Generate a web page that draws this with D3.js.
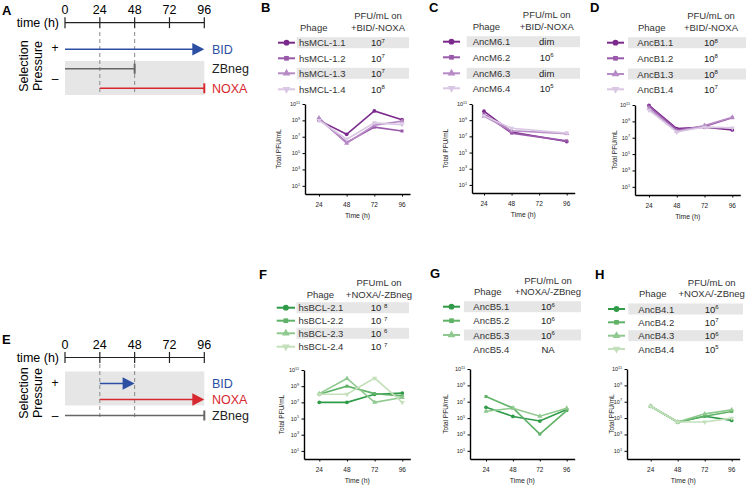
<!DOCTYPE html>
<html><head><meta charset="utf-8">
<script src="https://cdn.jsdelivr.net/npm/d3@7"></script>
<style>body{margin:0;background:#fff} text{font-family:Arial,"Liberation Sans",sans-serif}</style>
</head><body>
<svg id="c" width="746" height="485"></svg>
<script>
// ---------------- data ----------------
const times = [24, 48, 72, 96];
const timelineTicks = [0, 24, 48, 72, 96];
const yTickExps = [11, 9, 7, 5, 3, 1];

// Panel A schedule
const pressureLabelsA = ["BID", "ZBneg", "NOXA"];
const pressureStartA = [0, 0, 24];
const pressureEndA = [96, 48, 96];
// Panel E schedule
const pressureLabelsE = ["BID", "NOXA", "ZBneg"];
const pressureStartE = [24, 24, 0];
const pressureEndE = [48, 96, 96];

// Panel B
const phagesB = ["hsMCL-1.1", "hsMCL-1.2", "hsMCL-1.3", "hsMCL-1.4"];
const pfuB = ["10^7", "10^7", "10^7", "10^8"];
const seriesB = [
  [1.0e9, 2.0e7, 1.4e10, 1.2e9],
  [1.5e9, 2.0e6, 1.5e8, 5.0e7],
  [2.0e9, 1.6e6, 2.5e8, 8.0e8],
  [1.0e9, 5.0e6, 5.0e8, 3.0e8]
];
// Panel C
const phagesC = ["AncM6.1", "AncM6.2", "AncM6.3", "AncM6.4"];
const pfuC = ["dim", "10^6", "dim", "10^5"];
const seriesC = [
  [1.3e10, 3.5e7, null, 2.3e6],
  [6.0e9, 2.5e7, null, 2.8e6],
  [3.0e9, 5.0e7, null, 2.2e7],
  [3.5e9, 1.0e8, null, 2.5e7]
];
// Panel D
const phagesD = ["AncB1.1", "AncB1.2", "AncB1.3", "AncB1.4"];
const pfuD = ["10^8", "10^8", "10^8", "10^7"];
const seriesD = [
  [9.0e10, 1.3e8, 2.0e8, 9.0e7],
  [7.0e10, 9.0e7, 2.4e8, 2.8e9],
  [3.7e10, 6.0e7, 3.2e8, 3.2e9],
  [2.3e10, 5.0e7, 2.0e8, 1.6e8]
];
// Panel F
const phagesF = ["hsBCL-2.1", "hsBCL-2.2", "hsBCL-2.3", "hsBCL-2.4"];
const pfuF = ["10 ^8", "10 ^7", "10 ^6", "10 ^7"];
const seriesF = [
  [1.0e7, 1.0e7, 1.0e8, 1.4e8],
  [1.0e8, 1.0e9, 1.2e8, 6.3e7],
  [1.2e8, 9.0e9, 1.0e7, 4.0e7],
  [1.0e8, 1.0e8, 1.0e10, 1.0e7]
];
// Panel G
const phagesG = ["AncB5.1", "AncB5.2", "AncB5.3", "AncB5.4"];
const pfuG = ["10^6", "10^6", "10^6", "NA"];
const seriesG = [
  [2.1e6, 1.6e5, 4.4e4, 1.1e6],
  [4.4e7, 1.7e6, 1.1e3, 8.3e5],
  [6.9e5, 1.6e6, 1.7e5, 1.6e6],
  null
];
// Panel H
const phagesH = ["AncB4.1", "AncB4.2", "AncB4.3", "AncB4.4"];
const pfuH = ["10^6", "10^7", "10^6", "10^5"];
const seriesH = [
  [2.8e6, 3.3e4, 1.7e5, 5.2e4],
  [2.8e6, 3.3e4, 1.7e5, 6.3e5],
  [2.8e6, 3.3e4, 3.3e5, 1.0e6],
  [2.8e6, 3.3e4, 3.3e4, 1.0e5]
];

// ---------------- drawing ----------------
const svg = d3.select("#c");
const purples = ["#7b2a8c", "#9a58ab", "#b78bc6", "#dac7e4"];
const greens = ["#2f9a47", "#5fb267", "#8fc98f", "#c3e0bb"];
const symbols = [d3.symbolCircle, d3.symbolSquare, d3.symbolTriangle, d3.symbolTriangle];

function marker(g, i, x, y, color, size) {
  g.append("path")
    .attr("d", d3.symbol().type(symbols[i]).size(size)())
    .attr("transform", `translate(${x},${y})` + (i === 3 ? " rotate(180)" : ""))
    .attr("fill", color);
}

function supText(g, x, y, str, size, anchor, supSize, dy) {
  const t = g.append("text").attr("x", x).attr("y", y).attr("font-size", size)
    .attr("text-anchor", anchor).attr("fill", "#222");
  if (str.includes("^")) {
    const [b, e] = str.split("^");
    t.append("tspan").text(b);
    t.append("tspan").attr("font-size", supSize).attr("dy", -dy).text(e);
  } else t.text(str);
  return t;
}

function drawTimeline(L, labels, starts, ends, isE) {
  const g = svg.append("g");
  const t = d3.scaleLinear().domain([0, 96]).range([65, 204.3]);
  g.append("text").attr("x", 2).attr("y", L.letterY).attr("font-size", 13).attr("font-weight", "bold").text(L.letter);
  g.append("text").attr("x", 59).attr("y", L.axisY + 4.5).attr("font-size", 12.5).attr("text-anchor", "end").text("time (h)");
  g.append("line").attr("x1", t(0)).attr("x2", t(96)).attr("y1", L.axisY).attr("y2", L.axisY).attr("stroke", "#222").attr("stroke-width", 1.2);
  g.selectAll(".tk").data(timelineTicks).join("line")
    .attr("x1", d => t(d)).attr("x2", d => t(d)).attr("y1", L.axisY - 5.5).attr("y2", L.axisY + 5.5)
    .attr("stroke", "#222").attr("stroke-width", 1.2);
  g.selectAll(".tl").data(timelineTicks).join("text")
    .attr("x", d => t(d)).attr("y", L.axisY - 9).attr("text-anchor", "middle").attr("font-size", 12.5).text(d => d);
  g.append("rect").attr("x", t(0)).attr("y", L.bandY0).attr("width", t(96) - t(0)).attr("height", L.bandY1 - L.bandY0).attr("fill", "#e6e6e6");
  [24, 48].forEach(v => g.append("line").attr("x1", t(v)).attr("x2", t(v)).attr("y1", L.dashY0).attr("y2", L.dashY1)
    .attr("stroke", "#888").attr("stroke-width", 1).attr("stroke-dasharray", "4,3"));
  g.append("text").attr("transform", `translate(28,${L.spY}) rotate(-90)`).attr("text-anchor", "middle").attr("font-size", 12.5).text("Selection");
  g.append("text").attr("transform", `translate(42,${L.spY}) rotate(-90)`).attr("text-anchor", "middle").attr("font-size", 12.5).text("Pressure");
  g.append("text").attr("x", 55).attr("y", L.plusY + 4).attr("text-anchor", "middle").attr("font-size", 12).text("+");
  g.append("text").attr("x", 55).attr("y", L.minusY + 4).attr("text-anchor", "middle").attr("font-size", 12).text("\u2013");
  const colorOf = { BID: "#2c4fa3", NOXA: "#d7282f", ZBneg: "#666" };
  const textColor = { BID: "#2c4fa3", NOXA: "#d7282f", ZBneg: "#222" };
  labels.forEach((lab, i) => {
    const y = L.rowY[i], c = colorOf[lab];
    const x0 = t(starts[i]), x1 = t(ends[i]);
    const arrow = lab === "BID" || (isE && lab === "NOXA");
    if (arrow) {
      g.append("line").attr("x1", x0).attr("x2", x1 - 11).attr("y1", y).attr("y2", y).attr("stroke", c).attr("stroke-width", 1.5);
      g.append("path").attr("d", `M${x1 - 12},${y - 6.3}L${x1},${y}L${x1 - 12},${y + 6.3}Z`).attr("fill", c);
    } else {
      g.append("line").attr("x1", x0).attr("x2", x1).attr("y1", y).attr("y2", y).attr("stroke", c).attr("stroke-width", 1.5);
      g.append("line").attr("x1", x1).attr("x2", x1).attr("y1", y - 5).attr("y2", y + 5).attr("stroke", c).attr("stroke-width", 2);
    }
    g.append("text").attr("x", 212).attr("y", y + 4.5).attr("font-size", 12.5).attr("fill", textColor[lab]).text(lab);
  });
}

function drawPanel(L, phages, pfu, series, colors, condition) {
  const g = svg.append("g");
  g.append("text").attr("x", L.letterX).attr("y", L.letterY).attr("font-size", 13).attr("font-weight", "bold").text(L.letter);
  g.append("text").attr("x", L.valX).attr("y", L.hdr1).attr("text-anchor", "middle").attr("font-size", 9.5).attr("fill", "#333").text(L.hdrText);
  g.append("text").attr("x", L.valX).attr("y", L.hdr2).attr("text-anchor", "middle").attr("font-size", 9.5).attr("fill", "#333").text(condition);
  g.append("text").attr("x", L.phageX).attr("y", L.hdr2).attr("font-size", 9.5).attr("fill", "#333").text("Phage");
  phages.forEach((p, i) => {
    const y = L.rowY[i];
    if (i % 2 === 0) g.append("rect").attr("x", L.band[0]).attr("y", y - 5.5).attr("width", L.band[1] - L.band[0]).attr("height", 11).attr("fill", "#e6e6e6");
    if (series[i]) {
      g.append("line").attr("x1", L.mk[0]).attr("x2", L.mk[1]).attr("y1", y).attr("y2", y).attr("stroke", colors[i]).attr("stroke-width", 2);
      marker(g, i, (L.mk[0] + L.mk[1]) / 2, y, colors[i], i === 1 ? 22 : 26);
    }
    g.append("text").attr("x", L.nameX).attr("y", y + 3.5).attr("font-size", 9.5).attr("fill", "#333").text(p);
    supText(g, L.valX, y + 3.5, pfu[i], 9.5, "middle", 6, 3.5);
  });
  const y = d3.scaleLog().domain([1, 1e11]).range([L.yBot, L.yTop]);
  const h = (L.x96 - L.x24) / 72;
  const xAxisScale = d3.scaleLinear().domain([24 - (L.x24 - L.ax) / h, 96 + 8 / h]).range([L.ax, L.x96 + 8]);
  const x = v => xAxisScale(v);
  const ya = g.append("g").attr("transform", `translate(${L.ax},0)`)
    .call(d3.axisLeft(y).tickValues(yTickExps.map(e => Math.pow(10, e))).tickSize(2.5).tickSizeOuter(0).tickFormat(""));
  ya.select(".domain").attr("stroke-width", 1.4);
  ya.selectAll(".tick line").attr("stroke-width", 1);
  yTickExps.forEach(e => supText(g, L.ax - 5, y(Math.pow(10, e)) + 2, "10^" + e, 5.5, "end", 3.8, 2.3));
  const xa = g.append("g").attr("transform", `translate(0,${L.yBot})`)
    .call(d3.axisBottom(xAxisScale).tickValues(times).tickSize(2.5).tickSizeOuter(0).tickFormat(""));
  xa.select(".domain").attr("stroke-width", 1.4);
  xa.selectAll(".tick line").attr("stroke-width", 1);
  times.forEach(tv => g.append("text").attr("x", x(tv)).attr("y", L.yBot + 12.5).attr("text-anchor", "middle").attr("font-size", 6.5).attr("fill", "#222").text(tv));
  g.append("text").attr("x", (L.ax + L.x96 + 8) / 2).attr("y", L.yBot + 23.5).attr("text-anchor", "middle").attr("font-size", 6.8).attr("fill", "#222").text("Time (h)");
  g.append("text").attr("transform", `translate(${L.labX},${(L.yTop + L.yBot) / 2}) rotate(-90)`).attr("text-anchor", "middle").attr("font-size", 6.5).attr("fill", "#222").text("Total PFU/mL");
  const line = d3.line().x(d => x(d[0])).y(d => y(d[1]));
  series.forEach((s, i) => {
    if (!s) return;
    const pts = times.map((tv, k) => [tv, s[k]]).filter(d => d[1] != null);
    g.append("path").attr("d", line(pts)).attr("fill", "none").attr("stroke", colors[i]).attr("stroke-width", 1.6);
    pts.forEach(d => marker(g, i, x(d[0]), y(d[1]), colors[i], i === 1 ? 9 : 11));
  });
}

drawTimeline({ letter: "A", letterY: 15, axisY: 22.7, bandY0: 61, bandY1: 95, dashY0: 32, dashY1: 95, spY: 66,
  plusY: 48, minusY: 79, rowY: [49.3, 68.7, 88.3] }, pressureLabelsA, pressureStartA, pressureEndA, false);
drawTimeline({ letter: "E", letterY: 344, axisY: 357.5, bandY0: 371.5, bandY1: 405.5, dashY0: 364, dashY1: 419, spY: 393,
  plusY: 383, minusY: 415.5, rowY: [383.5, 399.5, 415.5] }, pressureLabelsE, pressureStartE, pressureEndE, true);

const cond1 = "+BID/-NOXA", cond2 = "+NOXA/-ZBneg";
drawPanel({ letter: "B", letterX: 261, letterY: 12, hdrText: "PFU/mL on", hdr1: 18.5, hdr2: 30.5, valX: 378, phageX: 300,
  rowY: [42.7, 58.3, 73.3, 89.3], band: [296.7, 409], mk: [278, 295], nameX: 299,
  ax: 305, x24: 319, x96: 402, yTop: 104, yBot: 194, labX: 281 }, phagesB, pfuB, seriesB, purples, cond1);
drawPanel({ letter: "C", letterX: 429, letterY: 12, hdrText: "PFU/mL on", hdr1: 18, hdr2: 29.5, valX: 546.7, phageX: 472.7,
  rowY: [41.7, 57.3, 73.3, 88.3], band: [466.7, 580], mk: [443, 460], nameX: 472.7,
  ax: 472, x24: 484, x96: 566.7, yTop: 104, yBot: 193, labX: 448 }, phagesC, pfuC, seriesC, purples, cond1);
drawPanel({ letter: "D", letterX: 590, letterY: 12, hdrText: "PFU/mL on", hdr1: 19, hdr2: 31, valX: 711, phageX: 638,
  rowY: [42.7, 58.3, 74, 89.3], band: [628, 746], mk: [607, 624], nameX: 637.3,
  ax: 635, x24: 649, x96: 732.3, yTop: 105, yBot: 195, labX: 617 }, phagesD, pfuD, seriesD, purples, cond1);
drawPanel({ letter: "F", letterX: 259, letterY: 278.5, hdrText: "PFUmL on", hdr1: 286, hdr2: 297.5, valX: 379, phageX: 306.7,
  rowY: [307.7, 320.7, 333.3, 346.7], band: [296.5, 409], mk: [276.7, 295], nameX: 298.5,
  ax: 304, x24: 319.3, x96: 402.3, yTop: 370, yBot: 459, labX: 284 }, phagesF, pfuF, seriesF, greens, cond2);
drawPanel({ letter: "G", letterX: 430, letterY: 278, hdrText: "PFU/mL on", hdr1: 284.3, hdr2: 294.7, valX: 548, phageX: 474,
  rowY: [306.7, 320.7, 335, 349], band: [464, 581], mk: [443, 460], nameX: 473.3,
  ax: 470, x24: 486, x96: 566.7, yTop: 369, yBot: 459, labX: 448 }, phagesG, pfuG, seriesG, greens, cond2);
drawPanel({ letter: "H", letterX: 595, letterY: 279, hdrText: "PFU/mL on", hdr1: 285.5, hdr2: 297, valX: 711.7, phageX: 639,
  rowY: [309, 322.3, 335.7, 349], band: [628.3, 743], mk: [608, 625], nameX: 638.3,
  ax: 627, x24: 650.7, x96: 731.7, yTop: 369, yBot: 459, labX: 614 }, phagesH, pfuH, seriesH, greens, cond2);
</script>
</body></html>
